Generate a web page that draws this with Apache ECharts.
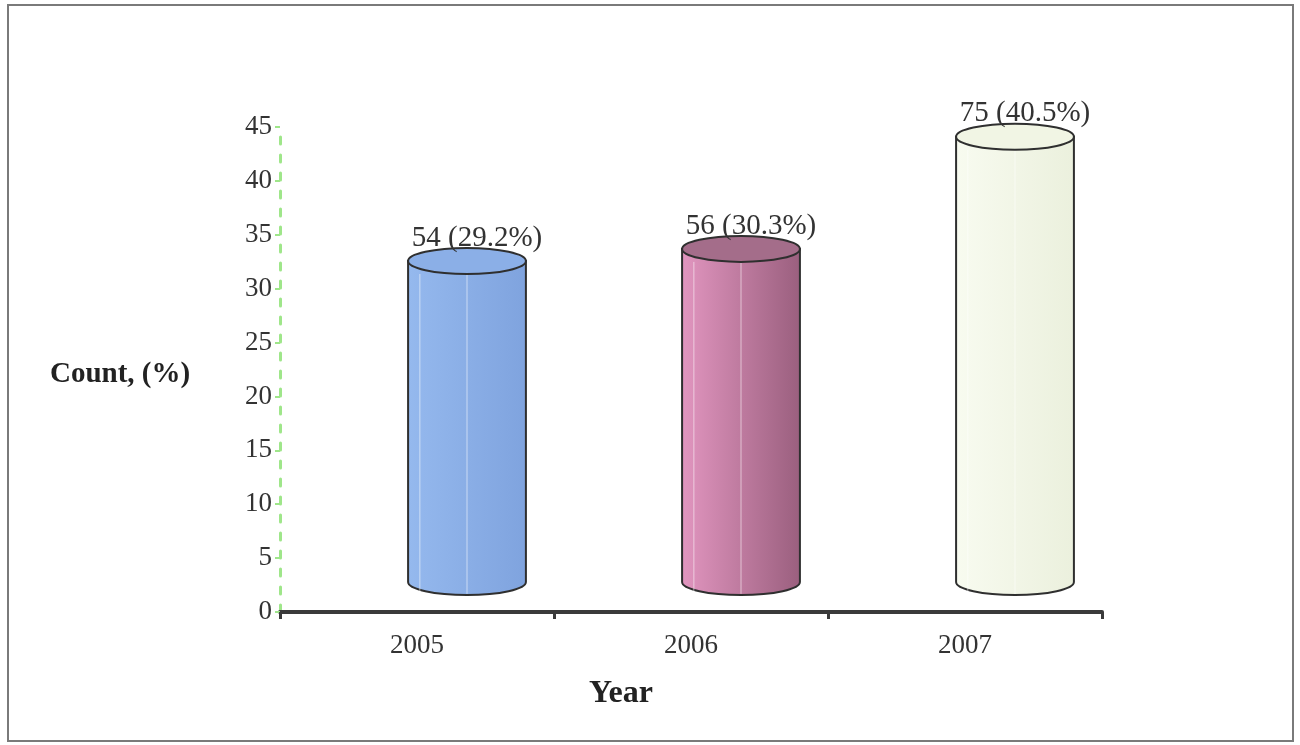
<!DOCTYPE html>
<html>
<head>
<meta charset="utf-8">
<script src="https://cdn.jsdelivr.net/npm/echarts@6/dist/echarts.min.js"></script>
<style>
  html, body { margin: 0; padding: 0; background: #fff; }
  #chart { width: 1300px; height: 745px; }
</style>
</head>
<body>
<div id="chart"></div>
<script>
// Cases per year, with their share of the total
const years = ['2005', '2006', '2007'];
const counts = [54, 56, 75];
const percents = [29.2, 30.3, 40.5];

// Side colours (left -> right shade) and cap colour for each cylinder
const sideColors = [
  ['#95b9ee', '#7fa3de'],
  ['#e296c0', '#9a5f7e'],
  ['#f8fbf0', '#ebf0dd']
];
const capColors = ['#8bafe7', '#a46d8a', '#f1f5e4'];

const SERIF = '"Liberation Serif", "DejaVu Serif", serif';

const chart = echarts.init(document.getElementById('chart'));

// 3-D offset of the cylinders relative to the axis plane
const DX = 50, DY = 30, DEPTH_SCALE = 1.02;

function renderCylinder(params, api) {
  const idx = api.value(0);
  const pct = api.value(1);
  const p0 = api.coord([idx, 0]);
  const p1 = api.coord([idx, pct]);
  const band = api.size([1, 0])[0];
  const rx = band * 0.215;
  const ry = 13;
  const cx = p0[0] + DX;
  const base = p0[1] - DY;
  const top = base - (p0[1] - p1[1]) * DEPTH_SCALE;
  const l = cx - rx, r = cx + rx;
  const sc = sideColors[params.dataIndex];
  const body = 'M' + l + ',' + top +
    ' L' + l + ',' + base +
    ' A' + rx + ',' + ry + ' 0 0 0 ' + r + ',' + base +
    ' L' + r + ',' + top + ' Z';
  const children = [
    {
      type: 'path',
      shape: { pathData: body },
      style: {
        fill: new echarts.graphic.LinearGradient(0, 0, 1, 0, [
          { offset: 0, color: sc[0] },
          { offset: 1, color: sc[1] }
        ]),
        stroke: '#2f2f2f',
        lineWidth: 2
      }
    },
    // faint wall grid seen through the cylinder
    {
      type: 'line',
      shape: { x1: l + rx * 0.2, y1: top + ry, x2: l + rx * 0.2, y2: base + ry * 0.8 },
      style: { stroke: 'rgba(255,255,255,0.55)', lineWidth: 1 }
    },
    {
      type: 'line',
      shape: { x1: cx, y1: top + ry, x2: cx, y2: base + ry * 0.9 },
      style: { stroke: 'rgba(255,255,255,0.55)', lineWidth: 1 }
    },
    {
      type: 'ellipse',
      shape: { cx: cx, cy: top, rx: rx, ry: ry },
      style: { fill: capColors[params.dataIndex], stroke: '#2f2f2f', lineWidth: 2 }
    },
    {
      type: 'text',
      style: {
        x: cx + 10,
        y: top - ry - 10,
        text: counts[params.dataIndex] + ' (' + pct + '%)',
        fill: '#333',
        font: '29px ' + SERIF,
        align: 'center',
        verticalAlign: 'middle'
      }
    }
  ];
  return { type: 'group', children: children };
}

chart.setOption({
  animation: false,
  backgroundColor: '#ffffff',
  grid: { left: 280, right: 198, top: 127, bottom: 133, containLabel: false },
  xAxis: {
    type: 'category',
    data: years,
    boundaryGap: true,
    axisLine: { lineStyle: { color: '#3a3a3a', width: 4 } },
    axisTick: { show: true, length: 7, lineStyle: { color: '#3a3a3a', width: 3 } },
    axisLabel: { color: '#333', fontFamily: SERIF, fontSize: 27, margin: 20 },
    splitLine: { show: false }
  },
  yAxis: {
    type: 'value',
    min: 0,
    max: 45,
    interval: 5,
    axisLine: { show: true, lineStyle: { color: '#9fe68a', width: 3, type: [7, 11] } },
    axisTick: { show: true, inside: false, length: 5, lineStyle: { color: '#9fe68a', width: 2 } },
    axisLabel: { color: '#333', fontFamily: SERIF, fontSize: 27, margin: 8 },
    splitLine: { show: false }
  },
  graphic: [
    {
      type: 'rect',
      shape: { x: 8, y: 5, width: 1285, height: 736 },
      style: { fill: 'none', stroke: '#7a7a7a', lineWidth: 2 },
      silent: true
    },
    {
      type: 'text',
      left: 50,
      top: 360,
      style: { text: 'Count, (%)', fill: '#222', font: 'bold 29px ' + SERIF }
    },
    {
      type: 'text',
      left: 589,
      top: 678,
      style: { text: 'Year', fill: '#222', font: 'bold 32px ' + SERIF }
    }
  ],
  series: [
    {
      type: 'custom',
      renderItem: renderCylinder,
      encode: { x: 0, y: 1 },
      data: years.map((y, i) => [i, percents[i], counts[i]]),
      clip: false,
      z: 3
    }
  ]
});
</script>
</body>
</html>
